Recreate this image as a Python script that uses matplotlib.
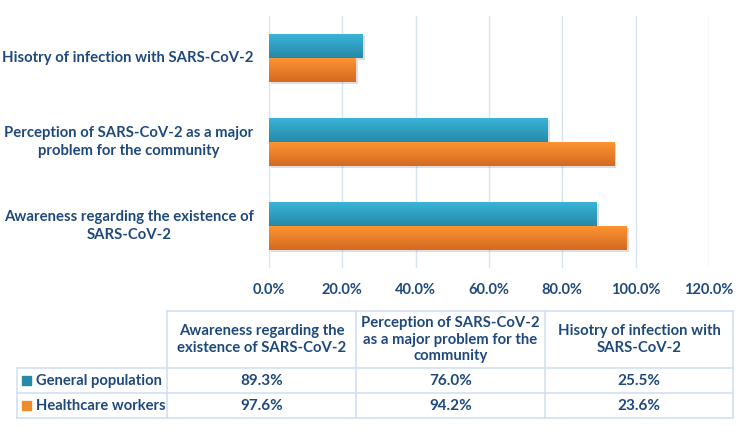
import numpy as np
import matplotlib
matplotlib.use("Agg")
import matplotlib.pyplot as plt
from matplotlib.colors import LinearSegmentedColormap
from matplotlib.ticker import FuncFormatter
import matplotlib.patheffects as pe

# data
categories = ["Awareness regarding the existence of\nSARS-CoV-2",
              "Perception of SARS-CoV-2 as a major\nproblem for the community",
              "Hisotry of infection with SARS-CoV-2"]
table_headers = ["Awareness regarding the\nexistence of SARS-CoV-2",
                 "Perception of SARS-CoV-2\nas a major problem for the\ncommunity",
                 "Hisotry of infection with\nSARS-CoV-2"]
series_names = ["General population", "Healthcare workers"]
general = [89.3, 76.0, 25.5]
healthcare = [97.6, 94.2, 23.6]
xticks = [0, 20, 40, 60, 80, 100, 120]

navy = "#1f497d"
grid_col = "#d5e3f3"
blue_grad = ["#3ab6da", "#2689a8"]
orange_grad = ["#ff9631", "#d36a22"]

plt.rcParams["font.family"] = ["Lato", "DejaVu Sans"]
plt.rcParams["font.weight"] = "bold"

W, H = 750, 436
fig = plt.figure(figsize=(7.5, 4.36), dpi=100)
ax = fig.add_axes([269 / W, 1 - 268 / H, (709 - 269) / W, (268 - 16) / H])

y = np.arange(len(categories))
h = 0.286
b1 = ax.barh(y + h / 2, general, height=h, color=blue_grad[1], zorder=3)
b2 = ax.barh(y - h / 2, healthcare, height=h, color=orange_grad[1], zorder=3)

grad = np.linspace(0, 1, 64).reshape(-1, 1)
for bars, cols in [(b1, blue_grad), (b2, orange_grad)]:
    cmap = LinearSegmentedColormap.from_list("g", cols)
    for r in bars:
        r.set_path_effects([pe.SimplePatchShadow(offset=(1.5, -1.5), alpha=0.15), pe.Normal()])
        im = ax.imshow(grad, cmap=cmap, aspect="auto", origin="upper",
                       extent=(r.get_x(), r.get_x() + r.get_width(),
                               r.get_y(), r.get_y() + r.get_height()),
                       zorder=4)
        im.set_clip_path(r)

ax.set_xlim(0, 120)
ax.set_ylim(-0.5, 2.5)
ax.set_xticks(xticks)
ax.xaxis.set_major_formatter(FuncFormatter(lambda v, p: f"{v:.1f}%"))
ax.set_yticks(y)
ax.set_yticklabels([])
# category labels, centred lines, right edge next to the axis
for yi, cat in zip(y, categories):
    ax.annotate(cat, xy=(0, yi), xycoords=ax.get_yaxis_transform(),
                xytext=(-11, 0), textcoords="offset points",
                ha="right", va="center", multialignment="center",
                linespacing=1.35, fontsize=10.7, color=navy)
ax.tick_params(length=0, labelcolor=navy)
ax.tick_params(axis="x", pad=11, labelsize=10.5)
ax.grid(axis="x", color=grid_col, linewidth=1, zorder=0)
for s in ax.spines.values():
    s.set_visible(False)

# table drawn in pixel coordinates
tx = fig.add_axes([0, 0, 1, 1], facecolor="none")
tx.set_xlim(0, W)
tx.set_ylim(H, 0)
tx.axis("off")
col_edges = [17, 167, 356, 545, 733]
row_edges = [311, 368, 393, 418]
bc = "#d2e0f2"
tx.plot([col_edges[1], col_edges[-1]], [row_edges[0]] * 2, color=bc, lw=1.2)
for ry in row_edges[1:]:
    tx.plot([col_edges[0], col_edges[-1]], [ry, ry], color=bc, lw=1.2)
for i, cx in enumerate(col_edges):
    top = row_edges[1] if i == 0 else row_edges[0]
    tx.plot([cx, cx], [top, row_edges[-1]], color=bc, lw=1.2)

for j, hd in enumerate(table_headers):
    cx = (col_edges[j + 1] + col_edges[j + 2]) / 2
    tx.text(cx, (row_edges[0] + row_edges[1]) / 2, hd, ha="center", va="center",
            fontsize=10.7, color=navy, linespacing=1.2)

sq_cols = [blue_grad[1], "#f08a2c"]
for i, (name, vals) in enumerate(zip(series_names, [general, healthcare])):
    cy = (row_edges[i + 1] + row_edges[i + 2]) / 2
    tx.add_patch(plt.Rectangle((22, cy - 4.5), 9, 9, color=sq_cols[i]))
    tx.text(36, cy, name, ha="left", va="center", fontsize=10.6, color=navy)
    for j, v in enumerate(vals):
        cx = (col_edges[j + 1] + col_edges[j + 2]) / 2
        tx.text(cx, cy, f"{v:.1f}%", ha="center", va="center", fontsize=11, color=navy)

fig.savefig("out.png", dpi=100)
